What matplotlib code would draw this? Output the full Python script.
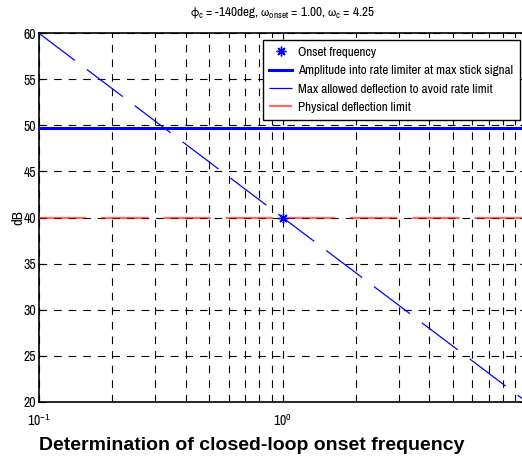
import numpy as np
import matplotlib
matplotlib.use("Agg")
import matplotlib.pyplot as plt
import matplotlib as mpl
from matplotlib import font_manager
from matplotlib.ticker import FixedLocator, FuncFormatter

# condensed face for axis text, plain Liberation Sans if none is around
_names = {f.name for f in font_manager.fontManager.ttflist}
narrow = next((n for n in ['Arial Narrow', 'Liberation Sans Narrow', 'Archivo Narrow']
               if n in _names), None)
if narrow is None:
    narrow, fscale = 'Liberation Sans', 0.82
else:
    fscale = 1.0

mpl.rcParams['font.family'] = [narrow, 'Liberation Sans', 'DejaVu Sans']
mpl.rcParams['mathtext.fontset'] = 'custom'
mpl.rcParams['mathtext.rm'] = narrow
mpl.rcParams['mathtext.it'] = narrow
mpl.rcParams['mathtext.bf'] = narrow + ':bold'
mpl.rcParams['mathtext.fallback'] = 'stixsans'   # greek letters
mpl.rcParams['lines.scale_dashes'] = False
mpl.rcParams['axes.linewidth'] = 1.2

# onset / crossover numbers
phi_c = -140
w_onset = 1.00
w_c = 4.25

# frequency grid (rad/s) and max allowed deflection curve (dB)
w = np.array([0.1, 10.0])
max_defl_db = np.array([60.0, 20.0])

amp_stick_db = 49.7      # amplitude into rate limiter at max stick
phys_limit_db = 40.0     # physical deflection limit
onset_db = 40.0

yticks = [20, 25, 30, 35, 40, 45, 50, 55, 60]

fig = plt.figure(figsize=(5.22, 4.63), dpi=100)
ax = fig.add_axes([39/522, 61.3/463, 487.3/522, 368.4/463])
ax.set_xscale('log')

# grid first so the data sits on top of it
ax.grid(True, which='both', axis='x', color='k', lw=0.8, ls=(0, (5.5, 5)))
ax.grid(True, which='major', axis='y', color='k', lw=0.8, ls=(0, (5.5, 5)))
ax.set_axisbelow(True)

ax.plot(w_onset, onset_db, ls='none', marker=(8, 2, 0), ms=7, mew=1, color='b',
        label='Onset frequency', zorder=5)
ax.axhline(amp_stick_db, color='b', lw=2.2,
           label='Amplitude into rate limiter at max stick signal', zorder=3)
ax.plot(w, max_defl_db, color='b', lw=0.9, ls=(0, (32.4, 10.8)),
        label='Max allowed deflection to avoid rate limit', zorder=4)
ax.axhline(phys_limit_db, color='r', lw=1.6, alpha=0.6, ls=(0, (34, 10.8)),
           label='Physical deflection limit', zorder=3)

ax.set_xlim(0.1, 10)
ax.set_ylim(20, 60)
ax.set_yticks(yticks)
ax.xaxis.set_major_locator(FixedLocator([0.1, 1, 10]))
# 10^1 sits past the right edge, leave it unlabelled
ax.xaxis.set_major_formatter(FuncFormatter(
    lambda v, p: r'$10^{%d}$' % round(np.log10(v)) if v < 5 else ''))
ax.tick_params(which='both', direction='in', top=True, right=True, labelsize=10*fscale)
ax.tick_params(which='major', length=4)
ax.tick_params(which='minor', length=2.5)
ax.tick_params(axis='x', pad=8)
ax.tick_params(axis='y', pad=2)
ax.set_ylabel('dB', fontsize=10.5*fscale, labelpad=-1)

ax.set_title(r'$\mathrm{\phi}_\mathrm{c}$ = %ddeg, $\mathrm{\omega}_\mathrm{onset}$ = %.2f, '
             r'$\mathrm{\omega}_\mathrm{c}$ = %.2f' % (phi_c, w_onset, w_c),
             fontsize=9.5*fscale, pad=12)

leg = ax.legend(loc='upper right', bbox_to_anchor=(520/522, 1 - 40/463),
                bbox_transform=fig.transFigure, borderaxespad=0, fontsize=9.4*fscale,
                fancybox=False, framealpha=1, edgecolor='k', handlelength=1.75,
                handletextpad=0.46, labelspacing=0.55, borderpad=0.52)
leg.get_frame().set_linewidth(1.0)

fig.text(252/522, 1 - 446/463, 'Determination of closed-loop onset frequency',
         family='Liberation Sans', fontsize=14, fontweight='bold', ha='center', va='center')

fig.savefig('out.png', dpi=100)
